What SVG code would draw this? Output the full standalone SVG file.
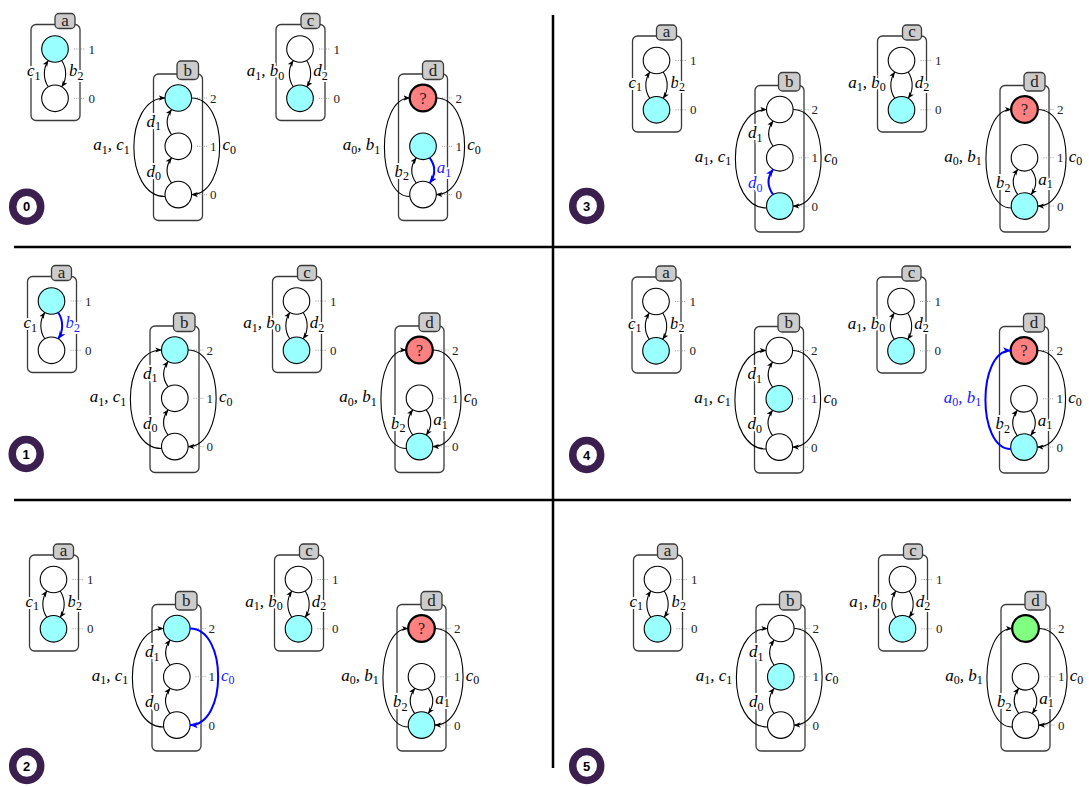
<svg xmlns="http://www.w3.org/2000/svg" width="1089" height="787" viewBox="0 0 1089 787">
<style>
.box{fill:none;stroke:#3a3a3a;stroke-width:1.3}
.tab{fill:#cccccc;stroke:#3a3a3a;stroke-width:1.3}
.st{fill:#ffffff;stroke:#000;stroke-width:1.1}
.cy{fill:#99ffff}
.rd{fill:#ff8080;stroke-width:2.2}
.gr{fill:#80ff80;stroke-width:2.2}
.pin{stroke:#999;stroke-width:1;stroke-dasharray:1 1.3}
.e{fill:none;stroke:#000;stroke-width:1.1;marker-end:url(#ah)}
.eb{stroke:#0000ff;stroke-width:2;marker-end:url(#ahb)}
.m{font-family:"Liberation Serif",serif;font-style:italic;font-size:17px;fill:#000}
.sb{font-size:12px;font-style:normal}
.h{paint-order:stroke;stroke:#fff;stroke-width:4px;stroke-linejoin:round}
.bl{fill:#2020ff}
.n{font-family:"Liberation Serif",serif;font-size:13px;fill:#222}
.t{font-family:"Liberation Serif",serif;font-size:17px;text-anchor:middle;fill:#222}
.q{font-family:"Liberation Serif",serif;font-size:16px;text-anchor:middle;fill:#222}
.sep{stroke:#000;stroke-width:2.5}
.ring{fill:none;stroke:#3b1f4f;stroke-width:7.5}
.bd{font-family:"Liberation Sans",sans-serif;font-weight:bold;font-size:13px;text-anchor:middle;fill:#000}
</style>
<defs>
<marker id="ah" viewBox="0 0 10 10" refX="9.5" refY="5" markerWidth="6.5" markerHeight="6.5" markerUnits="userSpaceOnUse" orient="auto"><path d="M0,1 L10,5 L0,9 L2.5,5 z" fill="#000"/></marker>
<marker id="ahb" viewBox="0 0 10 10" refX="9.5" refY="5" markerWidth="8" markerHeight="8" markerUnits="userSpaceOnUse" orient="auto"><path d="M0,1 L10,5 L0,9 L2.5,5 z" fill="#0000ff"/></marker>
</defs>
<rect width="1089" height="787" fill="#fff"/>

<g id="separators">
<line class="sep" x1="553" y1="15" x2="553" y2="768"/>
<line class="sep" x1="14" y1="247" x2="1071" y2="247"/>
<line class="sep" x1="14" y1="500" x2="1071" y2="500"/>
</g>

<g id="badges">
<g id="badge0"><ellipse class="ring" cx="26.7" cy="206.7" rx="14" ry="14.5"/><text class="bd" x="26.7" y="211.3">0</text></g>
<g id="badge1"><ellipse class="ring" cx="26.2" cy="454" rx="14" ry="14.5"/><text class="bd" x="26.2" y="458.6">1</text></g>
<g id="badge2"><ellipse class="ring" cx="26.7" cy="766" rx="14" ry="14.5"/><text class="bd" x="26.7" y="770.6">2</text></g>
<g id="badge3"><ellipse class="ring" cx="586.7" cy="206" rx="14" ry="14.5"/><text class="bd" x="586.7" y="210.6">3</text></g>
<g id="badge4"><ellipse class="ring" cx="586.7" cy="455" rx="14" ry="14.5"/><text class="bd" x="586.7" y="459.6">4</text></g>
<g id="badge5"><ellipse class="ring" cx="586.7" cy="766" rx="14" ry="14.5"/><text class="bd" x="586.7" y="770.6">5</text></g>
</g>

<!-- PANEL 0 -->
<g id="panel0" transform="translate(0,0)">
<g id="p0-a"><rect class="box" x="31" y="24.5" width="49" height="96" rx="5"/><rect class="tab" x="55" y="13.5" width="20" height="15" rx="4"/><text class="t" x="65" y="25.5">a</text>
<circle id="p0-a1" class="st cy" cx="55" cy="49" r="13.3"/><circle id="p0-a0" class="st" cx="55" cy="98.3" r="13.3"/>
<line class="pin" x1="74" y1="49" x2="85" y2="49"/><text class="n" x="88.5" y="53.5">1</text><line class="pin" x1="74" y1="98.3" x2="85" y2="98.3"/><text class="n" x="88.5" y="102.8">0</text></g>
<g id="p0-c"><rect class="box" x="276" y="24.5" width="49" height="96" rx="5"/><rect class="tab" x="301" y="13.5" width="19" height="15" rx="4"/><text class="t" x="310.5" y="25.5">c</text>
<circle id="p0-c1" class="st" cx="300" cy="49" r="13.3"/><circle id="p0-c0" class="st cy" cx="300" cy="98.3" r="13.3"/>
<line class="pin" x1="319" y1="49" x2="330" y2="49"/><text class="n" x="333.5" y="53.5">1</text><line class="pin" x1="319" y1="98.3" x2="330" y2="98.3"/><text class="n" x="333.5" y="102.8">0</text></g>
<g id="p0-b"><rect class="box" x="153.5" y="74" width="49" height="146.5" rx="5"/><rect class="tab" x="177" y="61" width="21.5" height="18.5" rx="4"/><text class="t" x="187.7" y="75.5">b</text>
<circle id="p0-b2" class="st cy" cx="178.3" cy="98" r="13.3"/><circle id="p0-b1" class="st" cx="178.3" cy="146.3" r="13.3"/><circle id="p0-b0" class="st" cx="178.3" cy="194.6" r="13.3"/>
<line class="pin" x1="197" y1="98" x2="207" y2="98"/><text class="n" x="210" y="102.5">2</text><line class="pin" x1="197" y1="146.3" x2="207" y2="146.3"/><text class="n" x="210" y="150.8">1</text><line class="pin" x1="197" y1="194.6" x2="207" y2="194.6"/><text class="n" x="210" y="199.1">0</text></g>
<g id="p0-d"><rect class="box" x="398.5" y="74" width="49" height="146.5" rx="5"/><rect class="tab" x="422.5" y="61" width="21" height="18.5" rx="4"/><text class="t" x="433" y="75.5">d</text>
<circle id="p0-d2" class="st rd" cx="423" cy="98" r="13.3"/><text class="q" x="423" y="103.5">?</text><circle id="p0-d1" class="st cy" cx="423" cy="146.3" r="13.3"/><circle id="p0-d0" class="st" cx="423" cy="194.6" r="13.3"/>
<line class="pin" x1="442" y1="98" x2="452" y2="98"/><text class="n" x="455.5" y="102.5">2</text><line class="pin" x1="442" y1="146.3" x2="452" y2="146.3"/><text class="n" x="455.5" y="150.8">1</text><line class="pin" x1="442" y1="194.6" x2="452" y2="194.6"/><text class="n" x="455.5" y="199.1">0</text></g>
<g id="p0-edges">
<path class="e" d="M48.3,86.8 C43,79 43,68.5 48.3,60.5"/><path class="e" d="M61.7,60.5 C67,68.5 67,79 61.7,86.8"/>
<path class="e" d="M293.3,86.8 C288,79 288,68.5 293.3,60.5"/><path class="e" d="M306.7,60.5 C312,68.5 312,79 306.7,86.8"/>
<path class="e" d="M171.6,134.8 C165.5,126 165.5,118 171.6,109.5"/><path class="e" d="M171.6,183.1 C165.5,174.5 165.5,166 171.6,157.8"/>
<path class="e" d="M165,196.5 C123.5,196.5 123.5,98 165,98"/><path class="e" d="M191.6,98 C229,98 229,194.6 191.6,194.6"/>
<path class="e" d="M409.7,196.5 C376,196.5 376,98 409.7,98"/><path class="e" d="M436.3,98 C474,98 474,194.6 436.3,194.6"/>
<path class="e" d="M416.3,183.1 C410.2,174.5 410.2,166 416.3,157.8"/><path class="e eb" d="M429.7,157.8 C435.8,166 435.8,174.5 429.7,183.1"/>
</g>
<g id="p0-labels">
<text class="m h" x="27" y="76">c<tspan class="sb" dy="3.5">1</tspan></text>
<text class="m h" x="69" y="76">b<tspan class="sb" dy="3.5">2</tspan></text>
<text class="m h" x="246.7" y="76">a<tspan class="sb" dy="3.5">1</tspan><tspan dy="-3.5">, b</tspan><tspan class="sb" dy="3.5">0</tspan></text>
<text class="m h" x="313.3" y="76">d<tspan class="sb" dy="3.5">2</tspan></text>
<text class="m" x="93.3" y="150">a<tspan class="sb" dy="3.5">1</tspan><tspan dy="-3.5">, c</tspan><tspan class="sb" dy="3.5">1</tspan></text>
<text class="m h" x="146.5" y="126.7">d<tspan class="sb" dy="3.5">1</tspan></text>
<text class="m h" x="146.5" y="176.7">d<tspan class="sb" dy="3.5">0</tspan></text>
<text class="m" x="222.5" y="150">c<tspan class="sb" dy="3.5">0</tspan></text>
<text class="m" x="342.7" y="150">a<tspan class="sb" dy="3.5">0</tspan><tspan dy="-3.5">, b</tspan><tspan class="sb" dy="3.5">1</tspan></text>
<text class="m h" x="394.5" y="176.7">b<tspan class="sb" dy="3.5">2</tspan></text>
<text class="m h bl" x="436.7" y="173.3">a<tspan class="sb" dy="3.5">1</tspan></text>
<text class="m" x="467.3" y="150">c<tspan class="sb" dy="3.5">0</tspan></text>
</g>
</g>

<!-- PANEL 1 -->
<g id="panel1" transform="translate(-3.5,252)">
<g id="p1-a"><rect class="box" x="31" y="24.5" width="49" height="96" rx="5"/><rect class="tab" x="55" y="13.5" width="20" height="15" rx="4"/><text class="t" x="65" y="25.5">a</text>
<circle id="p1-a1" class="st cy" cx="55" cy="49" r="13.3"/><circle id="p1-a0" class="st" cx="55" cy="98.3" r="13.3"/>
<line class="pin" x1="74" y1="49" x2="85" y2="49"/><text class="n" x="88.5" y="53.5">1</text><line class="pin" x1="74" y1="98.3" x2="85" y2="98.3"/><text class="n" x="88.5" y="102.8">0</text></g>
<g id="p1-c"><rect class="box" x="276" y="24.5" width="49" height="96" rx="5"/><rect class="tab" x="301" y="13.5" width="19" height="15" rx="4"/><text class="t" x="310.5" y="25.5">c</text>
<circle id="p1-c1" class="st" cx="300" cy="49" r="13.3"/><circle id="p1-c0" class="st cy" cx="300" cy="98.3" r="13.3"/>
<line class="pin" x1="319" y1="49" x2="330" y2="49"/><text class="n" x="333.5" y="53.5">1</text><line class="pin" x1="319" y1="98.3" x2="330" y2="98.3"/><text class="n" x="333.5" y="102.8">0</text></g>
<g id="p1-b"><rect class="box" x="153.5" y="74" width="49" height="146.5" rx="5"/><rect class="tab" x="177" y="61" width="21.5" height="18.5" rx="4"/><text class="t" x="187.7" y="75.5">b</text>
<circle id="p1-b2" class="st cy" cx="178.3" cy="98" r="13.3"/><circle id="p1-b1" class="st" cx="178.3" cy="146.3" r="13.3"/><circle id="p1-b0" class="st" cx="178.3" cy="194.6" r="13.3"/>
<line class="pin" x1="197" y1="98" x2="207" y2="98"/><text class="n" x="210" y="102.5">2</text><line class="pin" x1="197" y1="146.3" x2="207" y2="146.3"/><text class="n" x="210" y="150.8">1</text><line class="pin" x1="197" y1="194.6" x2="207" y2="194.6"/><text class="n" x="210" y="199.1">0</text></g>
<g id="p1-d"><rect class="box" x="398.5" y="74" width="49" height="146.5" rx="5"/><rect class="tab" x="422.5" y="61" width="21" height="18.5" rx="4"/><text class="t" x="433" y="75.5">d</text>
<circle id="p1-d2" class="st rd" cx="423" cy="98" r="13.3"/><text class="q" x="423" y="103.5">?</text><circle id="p1-d1" class="st" cx="423" cy="146.3" r="13.3"/><circle id="p1-d0" class="st cy" cx="423" cy="194.6" r="13.3"/>
<line class="pin" x1="442" y1="98" x2="452" y2="98"/><text class="n" x="455.5" y="102.5">2</text><line class="pin" x1="442" y1="146.3" x2="452" y2="146.3"/><text class="n" x="455.5" y="150.8">1</text><line class="pin" x1="442" y1="194.6" x2="452" y2="194.6"/><text class="n" x="455.5" y="199.1">0</text></g>
<g id="p1-edges">
<path class="e" d="M48.3,86.8 C43,79 43,68.5 48.3,60.5"/><path class="e eb" d="M61.7,60.5 C67,68.5 67,79 61.7,86.8"/>
<path class="e" d="M293.3,86.8 C288,79 288,68.5 293.3,60.5"/><path class="e" d="M306.7,60.5 C312,68.5 312,79 306.7,86.8"/>
<path class="e" d="M171.6,134.8 C165.5,126 165.5,118 171.6,109.5"/><path class="e" d="M171.6,183.1 C165.5,174.5 165.5,166 171.6,157.8"/>
<path class="e" d="M165,196.5 C123.5,196.5 123.5,98 165,98"/><path class="e" d="M191.6,98 C229,98 229,194.6 191.6,194.6"/>
<path class="e" d="M409.7,196.5 C376,196.5 376,98 409.7,98"/><path class="e" d="M436.3,98 C474,98 474,194.6 436.3,194.6"/>
<path class="e" d="M416.3,183.1 C410.2,174.5 410.2,166 416.3,157.8"/><path class="e" d="M429.7,157.8 C435.8,166 435.8,174.5 429.7,183.1"/>
</g>
<g id="p1-labels">
<text class="m h" x="27" y="76">c<tspan class="sb" dy="3.5">1</tspan></text>
<text class="m h bl" x="69" y="76">b<tspan class="sb" dy="3.5">2</tspan></text>
<text class="m h" x="246.7" y="76">a<tspan class="sb" dy="3.5">1</tspan><tspan dy="-3.5">, b</tspan><tspan class="sb" dy="3.5">0</tspan></text>
<text class="m h" x="313.3" y="76">d<tspan class="sb" dy="3.5">2</tspan></text>
<text class="m" x="93.3" y="150">a<tspan class="sb" dy="3.5">1</tspan><tspan dy="-3.5">, c</tspan><tspan class="sb" dy="3.5">1</tspan></text>
<text class="m h" x="146.5" y="126.7">d<tspan class="sb" dy="3.5">1</tspan></text>
<text class="m h" x="146.5" y="176.7">d<tspan class="sb" dy="3.5">0</tspan></text>
<text class="m" x="222.5" y="150">c<tspan class="sb" dy="3.5">0</tspan></text>
<text class="m" x="342.7" y="150">a<tspan class="sb" dy="3.5">0</tspan><tspan dy="-3.5">, b</tspan><tspan class="sb" dy="3.5">1</tspan></text>
<text class="m h" x="394.5" y="176.7">b<tspan class="sb" dy="3.5">2</tspan></text>
<text class="m h" x="436.7" y="173.3">a<tspan class="sb" dy="3.5">1</tspan></text>
<text class="m" x="467.3" y="150">c<tspan class="sb" dy="3.5">0</tspan></text>
</g>
</g>

<!-- PANEL 2 -->
<g id="panel2" transform="translate(-1.5,530.5)">
<g id="p2-a"><rect class="box" x="31" y="24.5" width="49" height="96" rx="5"/><rect class="tab" x="55" y="13.5" width="20" height="15" rx="4"/><text class="t" x="65" y="25.5">a</text>
<circle id="p2-a1" class="st" cx="55" cy="49" r="13.3"/><circle id="p2-a0" class="st cy" cx="55" cy="98.3" r="13.3"/>
<line class="pin" x1="74" y1="49" x2="85" y2="49"/><text class="n" x="88.5" y="53.5">1</text><line class="pin" x1="74" y1="98.3" x2="85" y2="98.3"/><text class="n" x="88.5" y="102.8">0</text></g>
<g id="p2-c"><rect class="box" x="276" y="24.5" width="49" height="96" rx="5"/><rect class="tab" x="301" y="13.5" width="19" height="15" rx="4"/><text class="t" x="310.5" y="25.5">c</text>
<circle id="p2-c1" class="st" cx="300" cy="49" r="13.3"/><circle id="p2-c0" class="st cy" cx="300" cy="98.3" r="13.3"/>
<line class="pin" x1="319" y1="49" x2="330" y2="49"/><text class="n" x="333.5" y="53.5">1</text><line class="pin" x1="319" y1="98.3" x2="330" y2="98.3"/><text class="n" x="333.5" y="102.8">0</text></g>
<g id="p2-b"><rect class="box" x="153.5" y="74" width="49" height="146.5" rx="5"/><rect class="tab" x="177" y="61" width="21.5" height="18.5" rx="4"/><text class="t" x="187.7" y="75.5">b</text>
<circle id="p2-b2" class="st cy" cx="178.3" cy="98" r="13.3"/><circle id="p2-b1" class="st" cx="178.3" cy="146.3" r="13.3"/><circle id="p2-b0" class="st" cx="178.3" cy="194.6" r="13.3"/>
<line class="pin" x1="197" y1="98" x2="207" y2="98"/><text class="n" x="210" y="102.5">2</text><line class="pin" x1="197" y1="146.3" x2="207" y2="146.3"/><text class="n" x="210" y="150.8">1</text><line class="pin" x1="197" y1="194.6" x2="207" y2="194.6"/><text class="n" x="210" y="199.1">0</text></g>
<g id="p2-d"><rect class="box" x="398.5" y="74" width="49" height="146.5" rx="5"/><rect class="tab" x="422.5" y="61" width="21" height="18.5" rx="4"/><text class="t" x="433" y="75.5">d</text>
<circle id="p2-d2" class="st rd" cx="423" cy="98" r="13.3"/><text class="q" x="423" y="103.5">?</text><circle id="p2-d1" class="st" cx="423" cy="146.3" r="13.3"/><circle id="p2-d0" class="st cy" cx="423" cy="194.6" r="13.3"/>
<line class="pin" x1="442" y1="98" x2="452" y2="98"/><text class="n" x="455.5" y="102.5">2</text><line class="pin" x1="442" y1="146.3" x2="452" y2="146.3"/><text class="n" x="455.5" y="150.8">1</text><line class="pin" x1="442" y1="194.6" x2="452" y2="194.6"/><text class="n" x="455.5" y="199.1">0</text></g>
<g id="p2-edges">
<path class="e" d="M48.3,86.8 C43,79 43,68.5 48.3,60.5"/><path class="e" d="M61.7,60.5 C67,68.5 67,79 61.7,86.8"/>
<path class="e" d="M293.3,86.8 C288,79 288,68.5 293.3,60.5"/><path class="e" d="M306.7,60.5 C312,68.5 312,79 306.7,86.8"/>
<path class="e" d="M171.6,134.8 C165.5,126 165.5,118 171.6,109.5"/><path class="e" d="M171.6,183.1 C165.5,174.5 165.5,166 171.6,157.8"/>
<path class="e" d="M165,196.5 C123.5,196.5 123.5,98 165,98"/><path class="e eb" d="M191.6,98 C229,98 229,194.6 191.6,194.6"/>
<path class="e" d="M409.7,196.5 C376,196.5 376,98 409.7,98"/><path class="e" d="M436.3,98 C474,98 474,194.6 436.3,194.6"/>
<path class="e" d="M416.3,183.1 C410.2,174.5 410.2,166 416.3,157.8"/><path class="e" d="M429.7,157.8 C435.8,166 435.8,174.5 429.7,183.1"/>
</g>
<g id="p2-labels">
<text class="m h" x="27" y="76">c<tspan class="sb" dy="3.5">1</tspan></text>
<text class="m h" x="69" y="76">b<tspan class="sb" dy="3.5">2</tspan></text>
<text class="m h" x="246.7" y="76">a<tspan class="sb" dy="3.5">1</tspan><tspan dy="-3.5">, b</tspan><tspan class="sb" dy="3.5">0</tspan></text>
<text class="m h" x="313.3" y="76">d<tspan class="sb" dy="3.5">2</tspan></text>
<text class="m" x="93.3" y="150">a<tspan class="sb" dy="3.5">1</tspan><tspan dy="-3.5">, c</tspan><tspan class="sb" dy="3.5">1</tspan></text>
<text class="m h" x="146.5" y="126.7">d<tspan class="sb" dy="3.5">1</tspan></text>
<text class="m h" x="146.5" y="176.7">d<tspan class="sb" dy="3.5">0</tspan></text>
<text class="m bl" x="222.5" y="150">c<tspan class="sb" dy="3.5">0</tspan></text>
<text class="m" x="342.7" y="150">a<tspan class="sb" dy="3.5">0</tspan><tspan dy="-3.5">, b</tspan><tspan class="sb" dy="3.5">1</tspan></text>
<text class="m h" x="394.5" y="176.7">b<tspan class="sb" dy="3.5">2</tspan></text>
<text class="m h" x="436.7" y="173.3">a<tspan class="sb" dy="3.5">1</tspan></text>
<text class="m" x="467.3" y="150">c<tspan class="sb" dy="3.5">0</tspan></text>
</g>
</g>

<!-- PANEL 3 -->
<g id="panel3" transform="translate(601.5,11.5)">
<g id="p3-a"><rect class="box" x="31" y="24.5" width="49" height="96" rx="5"/><rect class="tab" x="55" y="13.5" width="20" height="15" rx="4"/><text class="t" x="65" y="25.5">a</text>
<circle id="p3-a1" class="st" cx="55" cy="49" r="13.3"/><circle id="p3-a0" class="st cy" cx="55" cy="98.3" r="13.3"/>
<line class="pin" x1="74" y1="49" x2="85" y2="49"/><text class="n" x="88.5" y="53.5">1</text><line class="pin" x1="74" y1="98.3" x2="85" y2="98.3"/><text class="n" x="88.5" y="102.8">0</text></g>
<g id="p3-c"><rect class="box" x="276" y="24.5" width="49" height="96" rx="5"/><rect class="tab" x="301" y="13.5" width="19" height="15" rx="4"/><text class="t" x="310.5" y="25.5">c</text>
<circle id="p3-c1" class="st" cx="300" cy="49" r="13.3"/><circle id="p3-c0" class="st cy" cx="300" cy="98.3" r="13.3"/>
<line class="pin" x1="319" y1="49" x2="330" y2="49"/><text class="n" x="333.5" y="53.5">1</text><line class="pin" x1="319" y1="98.3" x2="330" y2="98.3"/><text class="n" x="333.5" y="102.8">0</text></g>
<g id="p3-b"><rect class="box" x="153.5" y="74" width="49" height="146.5" rx="5"/><rect class="tab" x="177" y="61" width="21.5" height="18.5" rx="4"/><text class="t" x="187.7" y="75.5">b</text>
<circle id="p3-b2" class="st" cx="178.3" cy="98" r="13.3"/><circle id="p3-b1" class="st" cx="178.3" cy="146.3" r="13.3"/><circle id="p3-b0" class="st cy" cx="178.3" cy="194.6" r="13.3"/>
<line class="pin" x1="197" y1="98" x2="207" y2="98"/><text class="n" x="210" y="102.5">2</text><line class="pin" x1="197" y1="146.3" x2="207" y2="146.3"/><text class="n" x="210" y="150.8">1</text><line class="pin" x1="197" y1="194.6" x2="207" y2="194.6"/><text class="n" x="210" y="199.1">0</text></g>
<g id="p3-d"><rect class="box" x="398.5" y="74" width="49" height="146.5" rx="5"/><rect class="tab" x="422.5" y="61" width="21" height="18.5" rx="4"/><text class="t" x="433" y="75.5">d</text>
<circle id="p3-d2" class="st rd" cx="423" cy="98" r="13.3"/><text class="q" x="423" y="103.5">?</text><circle id="p3-d1" class="st" cx="423" cy="146.3" r="13.3"/><circle id="p3-d0" class="st cy" cx="423" cy="194.6" r="13.3"/>
<line class="pin" x1="442" y1="98" x2="452" y2="98"/><text class="n" x="455.5" y="102.5">2</text><line class="pin" x1="442" y1="146.3" x2="452" y2="146.3"/><text class="n" x="455.5" y="150.8">1</text><line class="pin" x1="442" y1="194.6" x2="452" y2="194.6"/><text class="n" x="455.5" y="199.1">0</text></g>
<g id="p3-edges">
<path class="e" d="M48.3,86.8 C43,79 43,68.5 48.3,60.5"/><path class="e" d="M61.7,60.5 C67,68.5 67,79 61.7,86.8"/>
<path class="e" d="M293.3,86.8 C288,79 288,68.5 293.3,60.5"/><path class="e" d="M306.7,60.5 C312,68.5 312,79 306.7,86.8"/>
<path class="e" d="M171.6,134.8 C165.5,126 165.5,118 171.6,109.5"/><path class="e eb" d="M171.6,183.1 C165.5,174.5 165.5,166 171.6,157.8"/>
<path class="e" d="M165,196.5 C123.5,196.5 123.5,98 165,98"/><path class="e" d="M191.6,98 C229,98 229,194.6 191.6,194.6"/>
<path class="e" d="M409.7,196.5 C376,196.5 376,98 409.7,98"/><path class="e" d="M436.3,98 C474,98 474,194.6 436.3,194.6"/>
<path class="e" d="M416.3,183.1 C410.2,174.5 410.2,166 416.3,157.8"/><path class="e" d="M429.7,157.8 C435.8,166 435.8,174.5 429.7,183.1"/>
</g>
<g id="p3-labels">
<text class="m h" x="27" y="76">c<tspan class="sb" dy="3.5">1</tspan></text>
<text class="m h" x="69" y="76">b<tspan class="sb" dy="3.5">2</tspan></text>
<text class="m h" x="246.7" y="76">a<tspan class="sb" dy="3.5">1</tspan><tspan dy="-3.5">, b</tspan><tspan class="sb" dy="3.5">0</tspan></text>
<text class="m h" x="313.3" y="76">d<tspan class="sb" dy="3.5">2</tspan></text>
<text class="m" x="93.3" y="150">a<tspan class="sb" dy="3.5">1</tspan><tspan dy="-3.5">, c</tspan><tspan class="sb" dy="3.5">1</tspan></text>
<text class="m h" x="146.5" y="126.7">d<tspan class="sb" dy="3.5">1</tspan></text>
<text class="m h bl" x="146.5" y="176.7">d<tspan class="sb" dy="3.5">0</tspan></text>
<text class="m" x="222.5" y="150">c<tspan class="sb" dy="3.5">0</tspan></text>
<text class="m" x="342.7" y="150">a<tspan class="sb" dy="3.5">0</tspan><tspan dy="-3.5">, b</tspan><tspan class="sb" dy="3.5">1</tspan></text>
<text class="m h" x="394.5" y="176.7">b<tspan class="sb" dy="3.5">2</tspan></text>
<text class="m h" x="436.7" y="173.3">a<tspan class="sb" dy="3.5">1</tspan></text>
<text class="m" x="467.3" y="150">c<tspan class="sb" dy="3.5">0</tspan></text>
</g>
</g>

<!-- PANEL 4 -->
<g id="panel4" transform="translate(601,252.5)">
<g id="p4-a"><rect class="box" x="31" y="24.5" width="49" height="96" rx="5"/><rect class="tab" x="55" y="13.5" width="20" height="15" rx="4"/><text class="t" x="65" y="25.5">a</text>
<circle id="p4-a1" class="st" cx="55" cy="49" r="13.3"/><circle id="p4-a0" class="st cy" cx="55" cy="98.3" r="13.3"/>
<line class="pin" x1="74" y1="49" x2="85" y2="49"/><text class="n" x="88.5" y="53.5">1</text><line class="pin" x1="74" y1="98.3" x2="85" y2="98.3"/><text class="n" x="88.5" y="102.8">0</text></g>
<g id="p4-c"><rect class="box" x="276" y="24.5" width="49" height="96" rx="5"/><rect class="tab" x="301" y="13.5" width="19" height="15" rx="4"/><text class="t" x="310.5" y="25.5">c</text>
<circle id="p4-c1" class="st" cx="300" cy="49" r="13.3"/><circle id="p4-c0" class="st cy" cx="300" cy="98.3" r="13.3"/>
<line class="pin" x1="319" y1="49" x2="330" y2="49"/><text class="n" x="333.5" y="53.5">1</text><line class="pin" x1="319" y1="98.3" x2="330" y2="98.3"/><text class="n" x="333.5" y="102.8">0</text></g>
<g id="p4-b"><rect class="box" x="153.5" y="74" width="49" height="146.5" rx="5"/><rect class="tab" x="177" y="61" width="21.5" height="18.5" rx="4"/><text class="t" x="187.7" y="75.5">b</text>
<circle id="p4-b2" class="st" cx="178.3" cy="98" r="13.3"/><circle id="p4-b1" class="st cy" cx="178.3" cy="146.3" r="13.3"/><circle id="p4-b0" class="st" cx="178.3" cy="194.6" r="13.3"/>
<line class="pin" x1="197" y1="98" x2="207" y2="98"/><text class="n" x="210" y="102.5">2</text><line class="pin" x1="197" y1="146.3" x2="207" y2="146.3"/><text class="n" x="210" y="150.8">1</text><line class="pin" x1="197" y1="194.6" x2="207" y2="194.6"/><text class="n" x="210" y="199.1">0</text></g>
<g id="p4-d"><rect class="box" x="398.5" y="74" width="49" height="146.5" rx="5"/><rect class="tab" x="422.5" y="61" width="21" height="18.5" rx="4"/><text class="t" x="433" y="75.5">d</text>
<circle id="p4-d2" class="st rd" cx="423" cy="98" r="13.3"/><text class="q" x="423" y="103.5">?</text><circle id="p4-d1" class="st" cx="423" cy="146.3" r="13.3"/><circle id="p4-d0" class="st cy" cx="423" cy="194.6" r="13.3"/>
<line class="pin" x1="442" y1="98" x2="452" y2="98"/><text class="n" x="455.5" y="102.5">2</text><line class="pin" x1="442" y1="146.3" x2="452" y2="146.3"/><text class="n" x="455.5" y="150.8">1</text><line class="pin" x1="442" y1="194.6" x2="452" y2="194.6"/><text class="n" x="455.5" y="199.1">0</text></g>
<g id="p4-edges">
<path class="e" d="M48.3,86.8 C43,79 43,68.5 48.3,60.5"/><path class="e" d="M61.7,60.5 C67,68.5 67,79 61.7,86.8"/>
<path class="e" d="M293.3,86.8 C288,79 288,68.5 293.3,60.5"/><path class="e" d="M306.7,60.5 C312,68.5 312,79 306.7,86.8"/>
<path class="e" d="M171.6,134.8 C165.5,126 165.5,118 171.6,109.5"/><path class="e" d="M171.6,183.1 C165.5,174.5 165.5,166 171.6,157.8"/>
<path class="e" d="M165,196.5 C123.5,196.5 123.5,98 165,98"/><path class="e" d="M191.6,98 C229,98 229,194.6 191.6,194.6"/>
<path class="e eb" d="M409.7,196.5 C376,196.5 376,98 409.7,98"/><path class="e" d="M436.3,98 C474,98 474,194.6 436.3,194.6"/>
<path class="e" d="M416.3,183.1 C410.2,174.5 410.2,166 416.3,157.8"/><path class="e" d="M429.7,157.8 C435.8,166 435.8,174.5 429.7,183.1"/>
</g>
<g id="p4-labels">
<text class="m h" x="27" y="76">c<tspan class="sb" dy="3.5">1</tspan></text>
<text class="m h" x="69" y="76">b<tspan class="sb" dy="3.5">2</tspan></text>
<text class="m h" x="246.7" y="76">a<tspan class="sb" dy="3.5">1</tspan><tspan dy="-3.5">, b</tspan><tspan class="sb" dy="3.5">0</tspan></text>
<text class="m h" x="313.3" y="76">d<tspan class="sb" dy="3.5">2</tspan></text>
<text class="m" x="93.3" y="150">a<tspan class="sb" dy="3.5">1</tspan><tspan dy="-3.5">, c</tspan><tspan class="sb" dy="3.5">1</tspan></text>
<text class="m h" x="146.5" y="126.7">d<tspan class="sb" dy="3.5">1</tspan></text>
<text class="m h" x="146.5" y="176.7">d<tspan class="sb" dy="3.5">0</tspan></text>
<text class="m" x="222.5" y="150">c<tspan class="sb" dy="3.5">0</tspan></text>
<text class="m bl" x="342.7" y="150">a<tspan class="sb" dy="3.5">0</tspan><tspan dy="-3.5">, b</tspan><tspan class="sb" dy="3.5">1</tspan></text>
<text class="m h" x="394.5" y="176.7">b<tspan class="sb" dy="3.5">2</tspan></text>
<text class="m h" x="436.7" y="173.3">a<tspan class="sb" dy="3.5">1</tspan></text>
<text class="m" x="467.3" y="150">c<tspan class="sb" dy="3.5">0</tspan></text>
</g>
</g>

<!-- PANEL 5 -->
<g id="panel5" transform="translate(602.5,530.5)">
<g id="p5-a"><rect class="box" x="31" y="24.5" width="49" height="96" rx="5"/><rect class="tab" x="55" y="13.5" width="20" height="15" rx="4"/><text class="t" x="65" y="25.5">a</text>
<circle id="p5-a1" class="st" cx="55" cy="49" r="13.3"/><circle id="p5-a0" class="st cy" cx="55" cy="98.3" r="13.3"/>
<line class="pin" x1="74" y1="49" x2="85" y2="49"/><text class="n" x="88.5" y="53.5">1</text><line class="pin" x1="74" y1="98.3" x2="85" y2="98.3"/><text class="n" x="88.5" y="102.8">0</text></g>
<g id="p5-c"><rect class="box" x="276" y="24.5" width="49" height="96" rx="5"/><rect class="tab" x="301" y="13.5" width="19" height="15" rx="4"/><text class="t" x="310.5" y="25.5">c</text>
<circle id="p5-c1" class="st" cx="300" cy="49" r="13.3"/><circle id="p5-c0" class="st cy" cx="300" cy="98.3" r="13.3"/>
<line class="pin" x1="319" y1="49" x2="330" y2="49"/><text class="n" x="333.5" y="53.5">1</text><line class="pin" x1="319" y1="98.3" x2="330" y2="98.3"/><text class="n" x="333.5" y="102.8">0</text></g>
<g id="p5-b"><rect class="box" x="153.5" y="74" width="49" height="146.5" rx="5"/><rect class="tab" x="177" y="61" width="21.5" height="18.5" rx="4"/><text class="t" x="187.7" y="75.5">b</text>
<circle id="p5-b2" class="st" cx="178.3" cy="98" r="13.3"/><circle id="p5-b1" class="st cy" cx="178.3" cy="146.3" r="13.3"/><circle id="p5-b0" class="st" cx="178.3" cy="194.6" r="13.3"/>
<line class="pin" x1="197" y1="98" x2="207" y2="98"/><text class="n" x="210" y="102.5">2</text><line class="pin" x1="197" y1="146.3" x2="207" y2="146.3"/><text class="n" x="210" y="150.8">1</text><line class="pin" x1="197" y1="194.6" x2="207" y2="194.6"/><text class="n" x="210" y="199.1">0</text></g>
<g id="p5-d"><rect class="box" x="398.5" y="74" width="49" height="146.5" rx="5"/><rect class="tab" x="422.5" y="61" width="21" height="18.5" rx="4"/><text class="t" x="433" y="75.5">d</text>
<circle id="p5-d2" class="st gr" cx="423" cy="98" r="13.3"/><circle id="p5-d1" class="st" cx="423" cy="146.3" r="13.3"/><circle id="p5-d0" class="st" cx="423" cy="194.6" r="13.3"/>
<line class="pin" x1="442" y1="98" x2="452" y2="98"/><text class="n" x="455.5" y="102.5">2</text><line class="pin" x1="442" y1="146.3" x2="452" y2="146.3"/><text class="n" x="455.5" y="150.8">1</text><line class="pin" x1="442" y1="194.6" x2="452" y2="194.6"/><text class="n" x="455.5" y="199.1">0</text></g>
<g id="p5-edges">
<path class="e" d="M48.3,86.8 C43,79 43,68.5 48.3,60.5"/><path class="e" d="M61.7,60.5 C67,68.5 67,79 61.7,86.8"/>
<path class="e" d="M293.3,86.8 C288,79 288,68.5 293.3,60.5"/><path class="e" d="M306.7,60.5 C312,68.5 312,79 306.7,86.8"/>
<path class="e" d="M171.6,134.8 C165.5,126 165.5,118 171.6,109.5"/><path class="e" d="M171.6,183.1 C165.5,174.5 165.5,166 171.6,157.8"/>
<path class="e" d="M165,196.5 C123.5,196.5 123.5,98 165,98"/><path class="e" d="M191.6,98 C229,98 229,194.6 191.6,194.6"/>
<path class="e" d="M409.7,196.5 C376,196.5 376,98 409.7,98"/><path class="e" d="M436.3,98 C474,98 474,194.6 436.3,194.6"/>
<path class="e" d="M416.3,183.1 C410.2,174.5 410.2,166 416.3,157.8"/><path class="e" d="M429.7,157.8 C435.8,166 435.8,174.5 429.7,183.1"/>
</g>
<g id="p5-labels">
<text class="m h" x="27" y="76">c<tspan class="sb" dy="3.5">1</tspan></text>
<text class="m h" x="69" y="76">b<tspan class="sb" dy="3.5">2</tspan></text>
<text class="m h" x="246.7" y="76">a<tspan class="sb" dy="3.5">1</tspan><tspan dy="-3.5">, b</tspan><tspan class="sb" dy="3.5">0</tspan></text>
<text class="m h" x="313.3" y="76">d<tspan class="sb" dy="3.5">2</tspan></text>
<text class="m" x="93.3" y="150">a<tspan class="sb" dy="3.5">1</tspan><tspan dy="-3.5">, c</tspan><tspan class="sb" dy="3.5">1</tspan></text>
<text class="m h" x="146.5" y="126.7">d<tspan class="sb" dy="3.5">1</tspan></text>
<text class="m h" x="146.5" y="176.7">d<tspan class="sb" dy="3.5">0</tspan></text>
<text class="m" x="222.5" y="150">c<tspan class="sb" dy="3.5">0</tspan></text>
<text class="m" x="342.7" y="150">a<tspan class="sb" dy="3.5">0</tspan><tspan dy="-3.5">, b</tspan><tspan class="sb" dy="3.5">1</tspan></text>
<text class="m h" x="394.5" y="176.7">b<tspan class="sb" dy="3.5">2</tspan></text>
<text class="m h" x="436.7" y="173.3">a<tspan class="sb" dy="3.5">1</tspan></text>
<text class="m" x="467.3" y="150">c<tspan class="sb" dy="3.5">0</tspan></text>
</g>
</g>
</svg>
